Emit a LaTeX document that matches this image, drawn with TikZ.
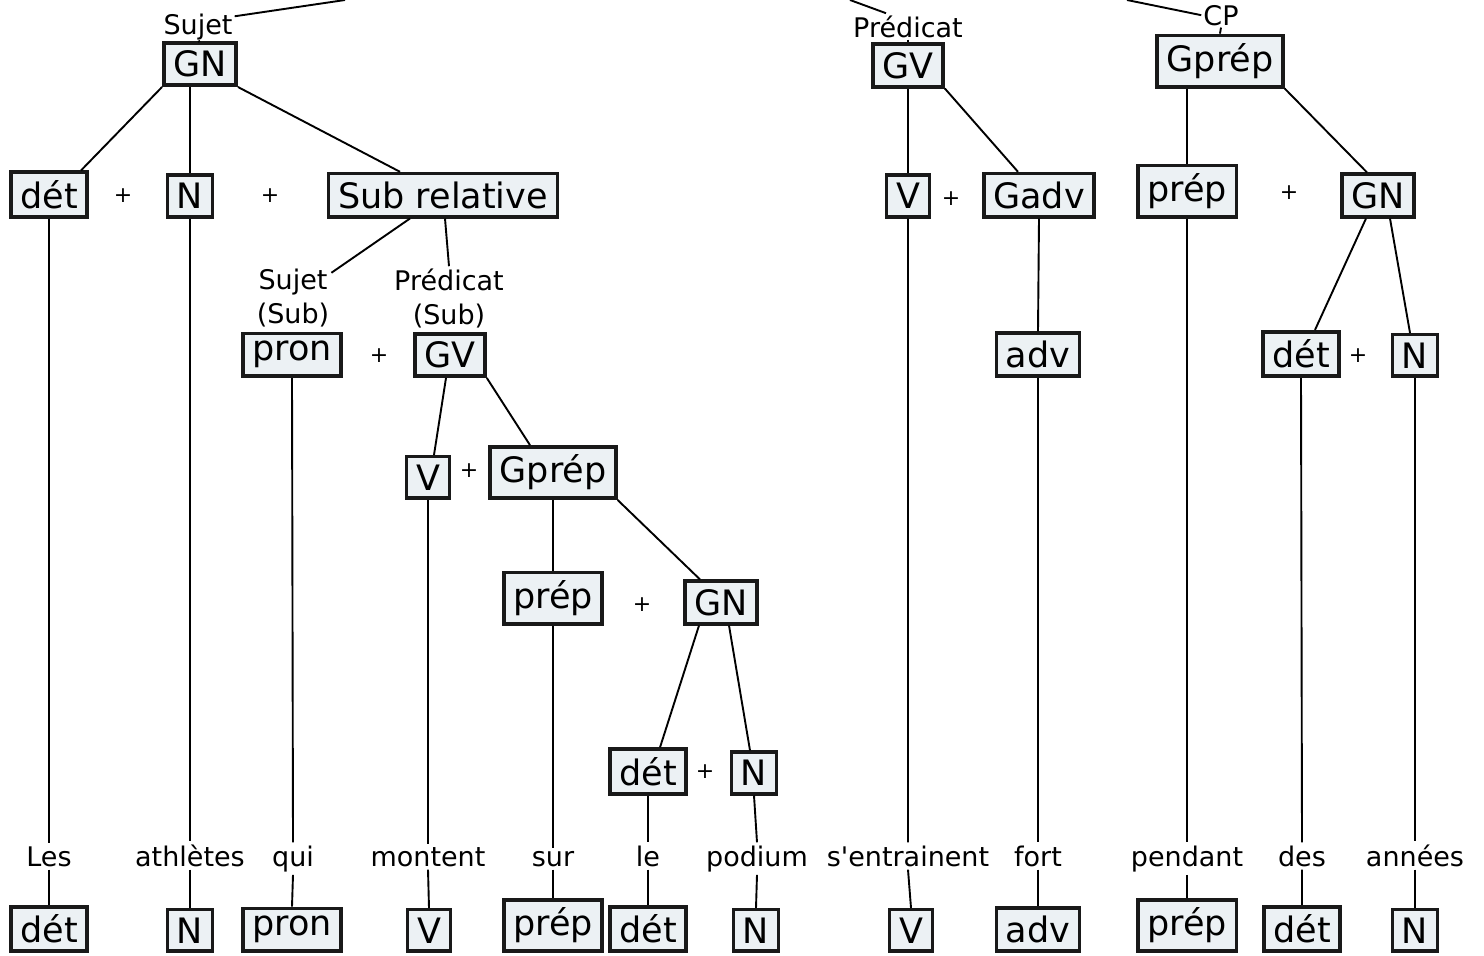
\documentclass[tikz,border=0pt]{standalone}
\usepackage{fontspec}
\setmainfont{DejaVu Sans}
\usetikzlibrary{calc}

\definecolor{boxfill}{RGB}{236,241,244}

\begin{document}
\begin{tikzpicture}[x=1pt,y=-1pt,
		classe/.style={draw=black!90, fill=boxfill, line width=3.6pt, inner xsep=9.5pt, inner ysep=8pt, anchor=south, font=\fontsize{35}{40}\selectfont},
		mot/.style={inner sep=3pt, anchor=base, font=\fontsize{27}{32}\selectfont},
		fonction/.style={inner sep=2pt, align=center, font=\fontsize{27}{34}\selectfont},
		plus/.style={font=\fontsize{22}{24}\selectfont},
		branche/.style={line width=1.9pt}]
	
	\useasboundingbox (0,0) rectangle (1484,956);
	
	% fonctions de la phrase
	\node[fonction, anchor=base] (sujet) at (198,34) {Sujet};
	\node[fonction, anchor=base] (pred) at (908,37) {Prédicat};
	\node[fonction, anchor=base] (cp) at (1221,25) {CP};
	\coordinate (t1) at (345,0);
	\coordinate (t2) at (850,0);
	\coordinate (t3) at (1127,0);
	
	% groupes
	\node[classe] (gn1) at (200,87) {GN};
	\node[classe] (gv1) at (908,88.5) {GV};
	\node[classe] (gprep1) at (1220,88.5) {Gprép};
	
	\node[classe] (det1) at (49,218.5) {dét};
	\node[classe] (n1) at (190,218.5) {N};
	\node[classe] (subrel) at (443,218.5) {Sub relative};
	\node[classe] (v1) at (908,218.5) {V};
	\node[classe] (gadv) at (1039,218.5) {Gadv};
	\node[classe] (prep1) at (1187,218.5) {prép};
	\node[classe] (gn4) at (1378,218.5) {GN};
	
	\node[fonction] (sujetsub) at (293,298) {Sujet\\(Sub)};
	\node[fonction] (predsub) at (449,298) {Prédicat\\(Sub)};
	
	\node[classe] (pron1) at (292,378) {pron};
	\node[classe] (gv2) at (450,378) {GV};
	\node[classe] (adv1) at (1038,378) {adv};
	\node[classe] (det4) at (1301,378) {dét};
	\node[classe] (n4) at (1415,378) {N};
	
	\node[classe] (v2) at (428,500) {V};
	\node[classe] (gprep2) at (553,500) {Gprép};
	\node[classe] (prep2) at (553,625.5) {prép};
	\node[classe] (gn3) at (721,625.5) {GN};
	\node[classe] (det3) at (648,795.5) {dét};
	\node[classe] (n3) at (754,795.5) {N};
	
	% signes +
	\node[plus] (pl1) at (123,196) {+};
	\node[plus] (pl2) at (270,196) {+};
	\node[plus] (pl3) at (379,356) {+};
	\node[plus] (pl4) at (469,471) {+};
	\node[plus] (pl5) at (642,605) {+};
	\node[plus] (pl6) at (705,772) {+};
	\node[plus] (pl7) at (951,199) {+};
	\node[plus] (pl8) at (1289,193) {+};
	\node[plus] (pl9) at (1358,356) {+};
	
	% mots et classes
	\foreach \xm/\xc/\mot/\classe [count=\i] in {49/49/Les/dét, 190/190/athlètes/N, 293/292/qui/pron,
			428/429/montent/V, 553/553/sur/prép, 648/648/le/dét, 757/756/podium/N,
			908/911/s\textquotesingle entrainent/V, 1038/1038/fort/adv, 1187/1187/pendant/prép,
			1302/1302/des/dét, 1415/1415/années/N}{
		\node[mot] (w\i) at (\xm,866) {\mot};
		\node[classe] (b\i) at (\xc,953) {\classe};
	}
	
	\draw[branche] ([yshift=-5pt]sujet.north east) -- (t1);
	\draw[branche] ([xshift=-22pt]pred.north) -- (t2);
	\draw[branche] (cp.west) -- (t3);
	\draw[branche] (sujet.south) -- (gn1.north);
	\draw[branche] (pred.south) -- (gv1.north);
	\draw[branche] (cp.south) -- (gprep1.north);
	
	% GN sujet
	\draw[branche] (gn1.south west) -- ([xshift=-8pt]det1.north east);
	\draw[branche] (n1.north |- gn1.south) -- (n1.north);
	\draw[branche] (gn1.south east) -- ([xshift=-43pt]subrel.north);
	\draw[branche] ([xshift=-33pt]subrel.south) -- ([yshift=-6pt]sujetsub.north east);
	\draw[branche] ([xshift=2pt]subrel.south) -- (predsub.north);
	\draw[branche] ([xshift=-4pt]gv2.south) -- ([xshift=6pt]v2.north);
	\draw[branche] (gv2.south east) -- ([xshift=-23pt]gprep2.north);
	\draw[branche] (gprep2.south) -- (prep2.north);
	\draw[branche] (gprep2.south east) -- ([xshift=-21pt]gn3.north);
	\draw[branche] ([xshift=-22pt]gn3.south) -- ([xshift=12pt]det3.north);
	\draw[branche] ([xshift=8pt]gn3.south) -- ([xshift=-4pt]n3.north);
	
	% GV
	\draw[branche] (gv1.south) -- (v1.north);
	\draw[branche] (gv1.south east) -- ([xshift=-21pt]gadv.north);
	\draw[branche] (gadv.south) -- (adv1.north);
	
	% CP
	\draw[branche] (prep1.north |- gprep1.south) -- (prep1.north);
	\draw[branche] (gprep1.south east) -- ([xshift=-11pt]gn4.north);
	\draw[branche] ([xshift=-12pt]gn4.south) -- ([xshift=14pt]det4.north);
	\draw[branche] ([xshift=12pt]gn4.south) -- ([xshift=-5pt]n4.north);
	
	\foreach \a/\i in {det1/1, n1/2, pron1/3, v2/4, prep2/5, det3/6, n3/7, v1/8, adv1/9, prep1/10, det4/11, n4/12}
	\draw[branche] (\a.south) -- (w\i.north) (w\i.south) -- (b\i.north);
	
\end{tikzpicture}
\end{document}
